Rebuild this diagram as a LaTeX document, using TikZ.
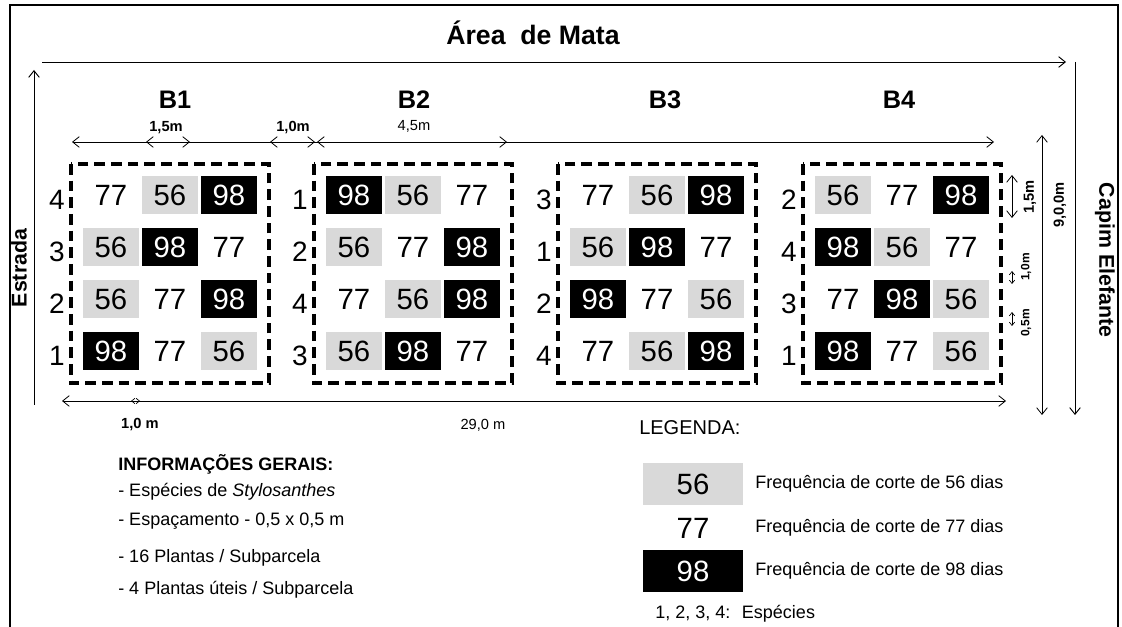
\documentclass[tikz,border=0pt]{standalone}
\usepackage{fontspec}
\setmainfont{Liberation Sans}
\usepackage{xcolor}
\usepackage{tikz}
\usetikzlibrary{positioning, arrows.meta, calc}

\definecolor{cf56}{RGB}{217,217,217}
\definecolor{cf77}{RGB}{255,255,255}
\definecolor{cf98}{RGB}{0,0,0}
\definecolor{ct56}{RGB}{0,0,0}
\definecolor{ct77}{RGB}{0,0,0}
\definecolor{ct98}{RGB}{255,255,255}

\begin{document}
\begin{tikzpicture}[x=0.75pt, y=-0.75pt,
    >={Straight Barb[length=5pt, width=8pt]},
    every node/.style={inner sep=0pt},
    dim/.style={<->, line width=0.6pt},
    tinydim/.style={{Straight Barb[length=2.5pt, width=4pt]}-{Straight Barb[length=2.5pt, width=4pt]}, line width=0.5pt},
    side/.style={->, line width=0.7pt},
    plotbox/.style={line width=2.4pt, dash pattern=on 8pt off 4.5pt},
    cell/.style={minimum width=42pt, minimum height=28pt, fill=cf#1, text=ct#1, font=\fontsize{22}{22}\selectfont},
    legbox/.style={cell=#1, minimum width=75pt, minimum height=32pt},
    spec/.style={font=\fontsize{21}{21}\selectfont},
    block/.style={font=\fontsize{19}{19}\selectfont\bfseries},
    dimlabel/.style={font=\fontsize{11}{11}\selectfont\bfseries},
    dimtext/.style={font=\fontsize{11}{11}\selectfont},
    smalllabel/.style={font=\fontsize{9}{9}\selectfont\bfseries},
    info/.style={anchor=west, font=\fontsize{13.5}{13.5}\selectfont}
]
\useasboundingbox (0,0) rectangle (1122,627);

% frame, open at the bottom
\draw[line width=1.2pt] (10,627) -- (10,5) -- (1118,5) -- (1118,627);

% surroundings
\node[font=\fontsize{20}{20}\selectfont\bfseries] (mata) at (533,33) {Área~ de Mata};
\coordinate (mata-l) at (42,62);
\coordinate (mata-r) at (1066,62);
\draw[side] (mata-l) -- (mata-r);

\coordinate (estrada-b) at (34,405);
\coordinate (estrada-t) at (34,70);
\draw[side] (estrada-b) -- (estrada-t);
\node[font=\fontsize{16}{16}\selectfont\bfseries, rotate=90] (estrada) at (19,268) {Estrada};

\coordinate (capim-t) at (1075,62);
\coordinate (capim-b) at (1075,415);
\draw[side] (capim-t) -- (capim-b);
\node[font=\fontsize{16}{16}\selectfont\bfseries, rotate=-90] (capim) at (1105,260) {Capim Elefante};

% blocks
\node[block] (b1) at (175,100) {B1};
\node[block] (b2) at (414,100) {B2};
\node[block] (b3) at (665,100) {B3};
\node[block] (b4) at (899,100) {B4};

\foreach \bx/\bn/\rows in {
    71/1/{4/77/56/98, 3/56/98/77, 2/56/77/98, 1/98/77/56},
    314/2/{1/98/56/77, 2/56/77/98, 4/77/56/98, 3/56/98/77},
    558/3/{3/77/56/98, 1/56/98/77, 2/98/77/56, 4/77/56/98},
    803/4/{2/56/77/98, 4/98/56/77, 3/77/98/56, 1/98/77/56}}{
  \draw[plotbox] (\bx,164) rectangle +(198,219);
  \foreach \sp/\ca/\cb/\cc [count=\r] in \rows {
    \pgfmathsetmacro{\ry}{195+52*(\r-1)}
    \node[spec] (s\bn-\r) at (\bx-14,\ry+5) {\sp};
    \node[cell=\ca] (c\bn-\r-1) at (\bx+40,\ry) {\ca};
    \node[cell=\cb] (c\bn-\r-2) at (\bx+99,\ry) {\cb};
    \node[cell=\cc] (c\bn-\r-3) at (\bx+158,\ry) {\cc};
  }
}

% horizontal measures
\coordinate (top-l) at (72,142);
\coordinate (top-r) at (994,142);
\draw[dim] (top-l) -- (top-r);
\coordinate (w15-l) at (146,142);
\coordinate (w15-r) at (190,142);
\draw[dim] (w15-l) -- (w15-r);
\node[dimlabel] (w15) at (166,128) {1,5m};
\coordinate (w10-l) at (270,142);
\coordinate (w10-r) at (315,142);
\draw[dim] (w10-l) -- (w10-r);
\node[dimlabel] (w10) at (293,128) {1,0m};
\coordinate (w45-l) at (317,142);
\coordinate (w45-r) at (507,142);
\draw[dim] (w45-l) -- (w45-r);
\node[dimtext] (w45) at (414,126) {4,5m};

\coordinate (bot-l) at (62,401);
\coordinate (bot-r) at (1006,401);
\draw[dim] (bot-l) -- (bot-r);
\coordinate (gap-l) at (131,401);
\coordinate (gap-r) at (140,401);
\draw[tinydim] (gap-l) -- (gap-r);
\node[dimlabel] (gap) at (140,425) {1,0 m};
\node[dimtext] (total) at (483,425) {29,0 m};

% vertical measures
\coordinate (h15-t) at (1012,175);
\coordinate (h15-b) at (1012,218);
\draw[dim] (h15-t) -- (h15-b);
\node[dimlabel, rotate=90] (h15) at (1030,197) {1,5m};
\coordinate (h10-t) at (1012,271);
\coordinate (h10-b) at (1012,284);
\draw[tinydim] (h10-t) -- (h10-b);
\node[smalllabel, rotate=90] (h10) at (1026,267) {1,0m};
\coordinate (h05-t) at (1012,312);
\coordinate (h05-b) at (1012,326);
\draw[tinydim] (h05-t) -- (h05-b);
\node[smalllabel, rotate=90] (h05) at (1026,323) {0,5m};
\coordinate (h90-t) at (1042,135);
\coordinate (h90-b) at (1042,415);
\draw[dim] (h90-t) -- (h90-b);
\node[dimlabel, rotate=90] (h90) at (1060,205) {9,0,0m};

% general information
\node[info, font=\fontsize{13.5}{13.5}\selectfont\bfseries] (inf0) at (118,464) {INFORMAÇÕES GERAIS:};
\node[info] (inf1) at (118,492) {- Espécies de \textit{Stylosanthes}};
\node[info] (inf2) at (118,521) {- Espaçamento - 0,5 x 0,5 m};
\node[info] (inf3) at (118,558) {- 16 Plantas / Subparcela};
\node[info] (inf4) at (118,590) {- 4 Plantas úteis / Subparcela};

% legend
\node[info, font=\fontsize{15}{15}\selectfont] (leg) at (639,428) {LEGENDA:};
\node[legbox=56] (leg56) at (693,484) {56};
\node[legbox=77] (leg77) at (693,528) {77};
\node[legbox=98] (leg98) at (693,571) {98};
\node[info] (txt56) at (755,484) {Frequência de corte de 56 dias};
\node[info] (txt77) at (755,528) {Frequência de corte de 77 dias};
\node[info] (txt98) at (755,571) {Frequência de corte de 98 dias};
\node[info] (spp) at (655,614) {1, 2, 3, 4:~ Espécies};
\end{tikzpicture}
\end{document}
